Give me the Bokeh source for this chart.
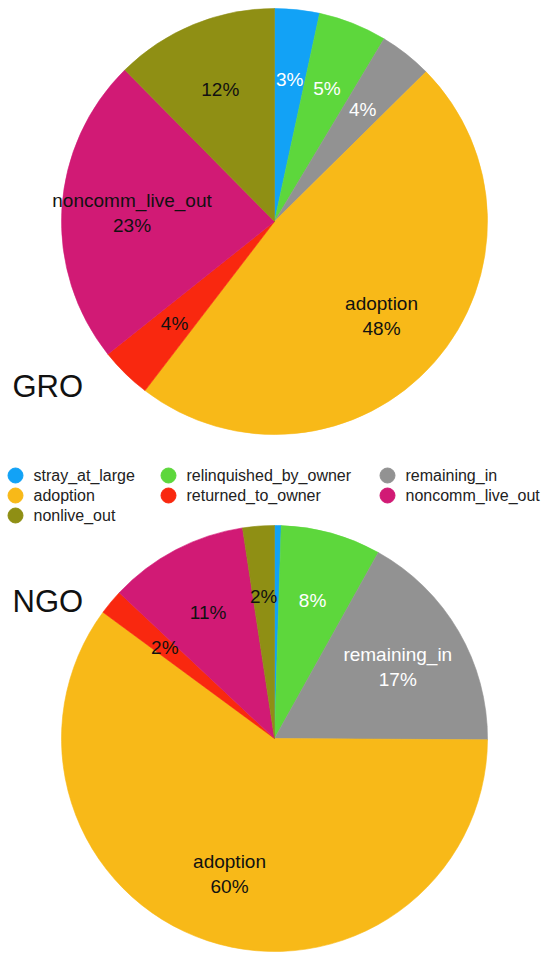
import numpy as np
from bokeh.plotting import figure
from bokeh.models import ColumnDataSource, Range1d
from bokeh.core.properties import value
from bokeh.embed import file_html
from bokeh.resources import INLINE

categories = ["stray_at_large", "relinquished_by_owner", "remaining_in",
              "adoption", "returned_to_owner", "noncomm_live_out", "nonlive_out"]
gro_values = [3.4, 5.2, 4.0, 47.8, 3.9, 23.3, 12.4]
ngo_values = [0.5, 7.6, 17.0, 60.0, 1.9, 10.6, 2.4]
colors = ["#12a2f6", "#5dd73c", "#929292", "#f8b918", "#f9280f", "#d11a75", "#8f8f14"]
text_colors = ["white", "white", "white", "#111111", "#111111", "#111111", "#111111"]
pie_titles = ["GRO", "NGO"]

FONT = "Liberation Sans"
W, H = 550, 956
R = 213

p = figure(width=W, height=H, x_range=Range1d(0, W), y_range=Range1d(0, H),
           x_axis_type=None, y_axis_type=None, toolbar_location=None,
           output_backend="svg", min_border=0)
p.outline_line_color = None
p.grid.visible = False
p.background_fill_color = "white"


def draw_pie(vals, cx, cy, title, title_y):
    v = np.array(vals, dtype=float)
    frac = v / v.sum()
    cum_end = np.cumsum(frac)
    cum_start = cum_end - frac
    start = np.pi / 2 - 2 * np.pi * cum_end
    end = np.pi / 2 - 2 * np.pi * cum_start
    src = ColumnDataSource(dict(start=start, end=end, color=colors,
                                x=[cx] * len(v), y=[cy] * len(v)))
    p.wedge(x="x", y="y", radius=R, start_angle="start", end_angle="end",
            fill_color="color", line_color="color", line_width=0.6, source=src)
    mid = np.pi / 2 - 2 * np.pi * (cum_start + frac / 2)
    lx, ly, lt, lc = [], [], [], []
    for i, f in enumerate(frac):
        pct = f * 100
        if pct < 1:
            continue
        txt = f"{int(round(pct))}%"
        if pct >= 15:
            txt = categories[i] + "\n" + txt
        lx.append(cx + 0.67 * R * np.cos(mid[i]))
        ly.append(cy + 0.67 * R * np.sin(mid[i]))
        lt.append(txt)
        lc.append(text_colors[i])
    lsrc = ColumnDataSource(dict(x=lx, y=ly, text=lt, color=lc))
    p.text(x="x", y="y", text="text", text_color="color", source=lsrc,
           text_align="center", text_baseline="middle", text_font=value(FONT),
           text_font_size="19px", text_line_height=1.2)
    p.text(x=[12], y=[title_y], text=[title], text_align="left",
           text_baseline="middle", text_font=value(FONT),
           text_font_size="31px", text_color="#111111")


draw_pie(gro_values, 274, 735, pie_titles[0], 570)
draw_pie(ngo_values, 274, 218, pie_titles[1], 355)

# legend (3 columns, row-major)
col_x = [15, 168, 387]
row_y = [481, 461, 441]
mx = [col_x[i % 3] for i in range(len(categories))]
my = [row_y[i // 3] for i in range(len(categories))]
leg = ColumnDataSource(dict(x=mx, y=my, tx=[x + 18 for x in mx],
                            text=categories, color=colors))
p.scatter(x="x", y="y", size=15, marker="circle", fill_color="color",
          line_color="color", source=leg)
p.text(x="tx", y="y", text="text", source=leg, text_align="left",
       text_baseline="middle", text_font=value(FONT), text_font_size="16px",
       text_color="#222222")

open("out.html", "w").write(file_html(p, INLINE))
